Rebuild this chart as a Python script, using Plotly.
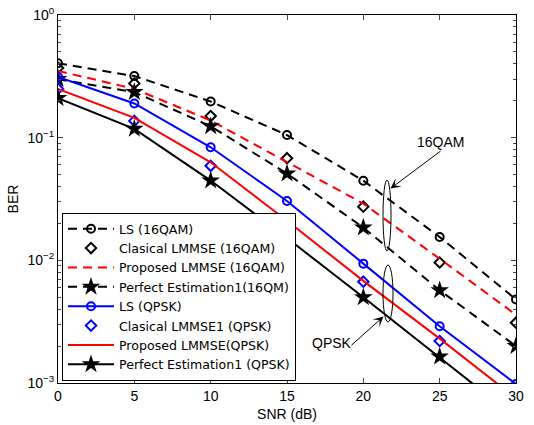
import plotly.graph_objects as go

snr = [0, 5, 10, 15, 20, 25, 30]

ls_16qam = [0.404, 0.318, 0.197, 0.105, 0.0446, 0.0155, 0.0048]
clmmse_16qam = [0.37, 0.277, 0.150, 0.068, 0.0274, 0.0096, 0.0031]
plmmse_16qam = [0.35, 0.25, 0.138, 0.063, 0.029, 0.0103, 0.0036]
perfect_16qam = [0.30, 0.235, 0.124, 0.051, 0.0185, 0.0057, 0.0020]

ls_qpsk = [0.313, 0.19, 0.0835, 0.0305, 0.0094, 0.0029, 0.00098]
clmmse_qpsk = [0.25, 0.137, 0.059, 0.020, 0.0067, 0.0022, 0.0007]
plmmse_qpsk = [0.25, 0.145, 0.063, 0.021, 0.0068, 0.0023, 0.00075]
perfect_qpsk = [0.21, 0.118, 0.0447, 0.0152, 0.0050, 0.00164, 0.00052]

x_ticks = [0, 5, 10, 15, 20, 25, 30]
y_ticks = [1e-3, 1e-2, 1e-1, 1]
y_ticktext = ["10<sup>−3</sup>", "10<sup>−2</sup>", "10<sup>−1</sup>", "10<sup>0</sup>"]

FONT = "Liberation Sans, Arial, Helvetica, sans-serif"
LEG_FONT = "DejaVu Sans, Liberation Sans, Arial, sans-serif"
DASH = "9px,6px"
LW = 2

circ = dict(symbol="circle-open", size=8, line=dict(width=2))
diam = dict(symbol="diamond-open", size=8, line=dict(width=2))
star = dict(symbol="star", size=14)

fig = go.Figure()
fig.add_trace(go.Scatter(x=snr, y=ls_16qam, name="LS (16QAM)", mode="lines+markers",
                         line=dict(color="black", width=LW, dash=DASH),
                         marker=dict(color="black", **circ)))
fig.add_trace(go.Scatter(x=snr, y=clmmse_16qam, name="Clasical LMMSE (16QAM)", mode="markers",
                         marker=dict(color="black", **diam)))
fig.add_trace(go.Scatter(x=snr, y=plmmse_16qam, name="Proposed LMMSE (16QAM)", mode="lines",
                         line=dict(color="red", width=LW, dash=DASH)))
fig.add_trace(go.Scatter(x=snr, y=perfect_16qam, name="Perfect Estimation1(16QM)", mode="lines+markers",
                         line=dict(color="black", width=LW, dash=DASH),
                         marker=dict(color="black", **star)))
fig.add_trace(go.Scatter(x=snr, y=ls_qpsk, name="LS (QPSK)", mode="lines+markers",
                         line=dict(color="blue", width=LW),
                         marker=dict(color="blue", **circ)))
fig.add_trace(go.Scatter(x=snr, y=clmmse_qpsk, name="Clasical LMMSE1 (QPSK)", mode="markers",
                         marker=dict(color="blue", **diam)))
fig.add_trace(go.Scatter(x=snr, y=plmmse_qpsk, name="Proposed LMMSE(QPSK)", mode="lines",
                         line=dict(color="red", width=LW)))
fig.add_trace(go.Scatter(x=snr, y=perfect_qpsk, name="Perfect Estimation1 (QPSK)", mode="lines+markers",
                         line=dict(color="black", width=LW),
                         marker=dict(color="black", **star)))

# plot area geometry in pixels (for annotation placement)
L, R, T, B = 58, 516, 15, 383
W, H = R - L, B - T
def px(xp):
    return (xp - L) / W
def py(yp):
    return (B - yp) / H

minor_vals = []
for d in [1e-3, 1e-2, 1e-1]:
    for k in range(2, 10):
        minor_vals.append(k * d)

fig.update_layout(
    width=534, height=425,
    margin=dict(l=L, r=534 - R, t=T, b=425 - B),
    paper_bgcolor="white", plot_bgcolor="white",
    font=dict(family=FONT, size=14, color="black"),
    showlegend=True,
    legend=dict(x=px(62), y=py(381), xanchor="left", yanchor="bottom",
                bgcolor="white", bordercolor="black", borderwidth=1,
                font=dict(family=LEG_FONT, size=12.6, color="black"),
                itemwidth=46, tracegroupgap=0),
    xaxis=dict(range=[0, 30], tickvals=x_ticks, ticks="inside", ticklen=5,
               showline=True, linecolor="black", linewidth=1, mirror="allticks",
               showgrid=False, zeroline=False, automargin=False,
               title=dict(text="SNR (dB)", standoff=6, font=dict(size=14)),
               tickfont=dict(size=14)),
    yaxis=dict(type="log", range=[-3, 0], tickvals=y_ticks, ticktext=y_ticktext,
               ticks="inside", ticklen=5,
               showline=True, linecolor="black", linewidth=1, mirror="allticks",
               showgrid=False, zeroline=False, automargin=False,
               minor=dict(tickvals=minor_vals, ticks="inside", ticklen=3, showgrid=False),
               title=dict(text="BER", standoff=5, font=dict(size=14)),
               tickfont=dict(size=14)),
)

# ellipses
fig.add_shape(type="circle", xref="paper", yref="paper",
              x0=px(383), x1=px(391), y0=py(251), y1=py(180),
              line=dict(color="black", width=1))
fig.add_shape(type="circle", xref="paper", yref="paper",
              x0=px(383), x1=px(393), y0=py(322), y1=py(265),
              line=dict(color="black", width=1))

# labels
fig.add_annotation(text="16QAM", xref="paper", yref="paper", x=px(466), y=py(141.5),
                   showarrow=False, font=dict(size=14))
fig.add_annotation(text="QPSK", xref="paper", yref="paper", x=px(332), y=py(352.5),
                   showarrow=False, font=dict(size=14))
# arrows
fig.add_annotation(text="", xref="paper", yref="paper", x=px(390.5), y=py(188.5),
                   ax=442 - 390.5, ay=150 - 188.5, showarrow=True,
                   arrowhead=3, arrowsize=1.7, arrowwidth=1, arrowcolor="black")
fig.add_annotation(text="", xref="paper", yref="paper", x=px(383.5), y=py(316.5),
                   ax=350 - 383.5, ay=346.5 - 316.5, showarrow=True,
                   arrowhead=3, arrowsize=1.7, arrowwidth=1, arrowcolor="black")

fig.write_html("out.html", config={"displayModeBar": False},
               post_script="document.body.style.margin='0px';document.body.style.overflow='hidden';")
